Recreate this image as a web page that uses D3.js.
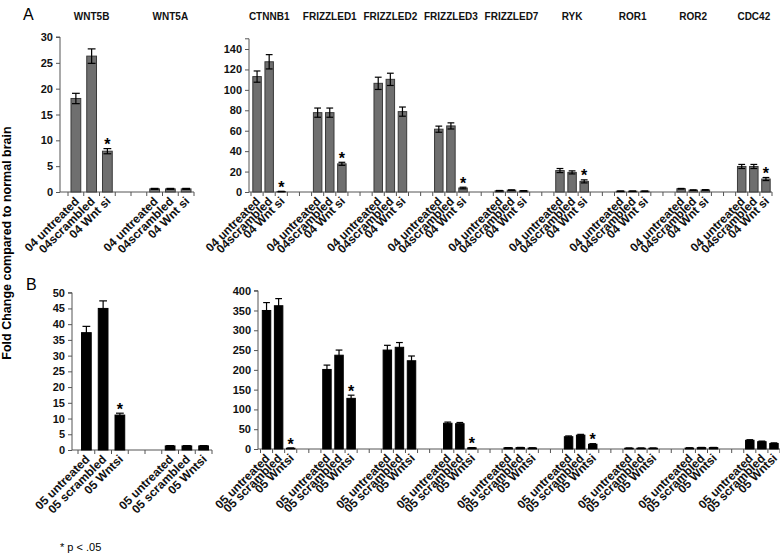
<!DOCTYPE html>
<html><head><meta charset="utf-8">
<script src="https://cdn.jsdelivr.net/npm/d3@7"></script>
<style>body{margin:0;background:#fff}svg{display:block;font-family:"Liberation Sans",Arial,sans-serif}</style>
</head><body>
<svg id="c" width="780" height="556"></svg>
<script>
// ---- data ----
const genesLeft = ["WNT5B", "WNT5A"];
const genesRight = ["CTNNB1", "FRIZZLED1", "FRIZZLED2", "FRIZZLED3", "FRIZZLED7", "RYK", "ROR1", "ROR2", "CDC42"];
const condA = ["04 untreated", "04scrambled", "04 Wnt si"];
const condB = ["05 untreated", "05 scrambled", "05 Wntsi"];

const aLeftValues = [[18.1, 26.3, 7.9], [0.6, 0.6, 0.6]];
const aLeftErrors = [[1.0, 1.4, 0.5], [0.1, 0.1, 0.1]];
const aLeftSig = [[0, 0, 1], [0, 0, 0]];

const aRightValues = [[113, 127.5, 0.5], [77.7, 77.7, 27.6], [106.4, 110.3, 78.7], [61.5, 64.7, 3.9], [1.2, 1.8, 1.1], [21, 19.2, 10.4], [0.8, 0.8, 0.8], [3.2, 1.8, 2.0], [25, 25, 12.7]];
const aRightErrors = [[5.5, 7, 0.2], [4.5, 4.5, 1.5], [6, 6, 4.5], [3, 3, 0.8], [0.3, 0.3, 0.2], [2, 1.5, 1.5], [0.2, 0.2, 0.2], [0.3, 0.3, 0.3], [2, 2, 1.5]];
const aRightSig = [[0, 0, 1], [0, 0, 1], [0, 0, 0], [0, 0, 1], [0, 0, 0], [0, 0, 1], [0, 0, 0], [0, 0, 0], [0, 0, 1]];

const bLeftValues = [[37.3, 45.0, 11.1], [1.3, 1.3, 1.3]];
const bLeftErrors = [[2.0, 2.4, 0.6], [0.1, 0.1, 0.1]];
const bLeftSig = [[0, 0, 1], [0, 0, 0]];

const bRightValues = [[350, 362, 2], [201, 237, 128], [250, 257, 223], [65, 64, 3], [3, 3.5, 2.5], [31, 35, 12], [2, 2, 2], [2.5, 3.5, 3.5], [22, 18.5, 14]];
const bRightErrors = [[20, 18, 0.5], [11, 13, 8], [12, 12, 12], [3, 3, 0.5], [0.5, 0.5, 0.5], [2, 2, 1.5], [0.5, 0.5, 0.5], [0.5, 0.5, 0.5], [1.5, 1.5, 1.5]];
const bRightSig = [[0, 0, 1], [0, 0, 1], [0, 0, 0], [0, 0, 1], [0, 0, 0], [0, 0, 1], [0, 0, 0], [0, 0, 0], [0, 0, 0]];

const ticksALeft = [0, 5, 10, 15, 20, 25, 30];
const ticksARight = [0, 20, 40, 60, 80, 100, 120, 140];
const ticksBLeft = [0, 5, 10, 15, 20, 25, 30, 35, 40, 45, 50];
const ticksBRight = [0, 50, 100, 150, 200, 250, 300, 350, 400];

// ---- drawing ----
const svg = d3.select("#c");
const FONT = '"Liberation Sans",Arial,sans-serif';

function panel(cfg) {
  const g = svg.append("g");
  // slots: 3 bars per gene, 2 blank slots between genes
  const slots = [];
  cfg.genes.forEach((gene, gi) => {
    cfg.conds.forEach((c, ci) => slots.push({key: gene + "|" + ci, gene, gi, ci, cond: c}));
    if (gi < cfg.genes.length - 1) { slots.push({key: gene + "|gap1", blank: true}); slots.push({key: gene + "|gap2", blank: true}); }
  });
  const x = d3.scaleBand().domain(slots.map(s => s.key)).range(cfg.xRange).paddingInner(cfg.pad).paddingOuter(cfg.pad / 2);
  const y = d3.scaleLinear().domain(cfg.yDomain).range(cfg.yRange);
  const y0 = y(0);

  // y axis
  const yAxis = d3.axisLeft(y).tickValues(cfg.ticks).tickSize(4).tickPadding(3);
  const ya = g.append("g").attr("transform", `translate(${cfg.axisX},0)`).call(yAxis);
  ya.select(".domain").attr("stroke", "#555").attr("d", `M-4,${y(cfg.yDomain[1])}H0V${y0}`);
  ya.selectAll(".tick line").attr("stroke", "#555");
  ya.selectAll(".tick text").attr("font-family", FONT).attr("font-weight", "bold").attr("font-size", "11px").attr("fill", "#111");

  // x axis line + ticks at slot boundaries
  const step = x.step();
  const start = x(slots[0].key) - x.paddingOuter() * step;
  const xEnd = cfg.xRange[1];
  g.append("line").attr("x1", cfg.axisX).attr("x2", xEnd).attr("y1", y0).attr("y2", y0).attr("stroke", "#555");
  const bounds = d3.range(slots.length + 1).map(i => start + i * step);
  g.selectAll("line.xt").data(bounds).join("line").attr("class", "xt")
    .attr("x1", d => d).attr("x2", d => d).attr("y1", y0).attr("y2", y0 + 4).attr("stroke", "#555");

  const bars = slots.filter(s => !s.blank).map(s => ({
    ...s,
    v: cfg.values[s.gi][s.ci],
    e: cfg.errors[s.gi][s.ci],
    sig: cfg.sig[s.gi][s.ci]
  }));

  g.selectAll("rect.bar").data(bars).join("rect").attr("class", "bar")
    .attr("x", d => x(d.key)).attr("width", x.bandwidth())
    .attr("y", d => y(d.v)).attr("height", d => y0 - y(d.v))
    .attr("fill", cfg.fill).attr("stroke", cfg.stroke).attr("stroke-width", 1);

  // error bars
  const cap = x.bandwidth() * 0.4;
  const cx = d => x(d.key) + x.bandwidth() / 2;
  const eb = g.selectAll("g.eb").data(bars).join("g").attr("class", "eb");
  eb.append("line").attr("x1", cx).attr("x2", cx)
    .attr("y1", d => y(d.v + d.e)).attr("y2", d => y(Math.max(0, d.v - d.e))).attr("stroke", "#000").attr("stroke-width", 1.2);
  eb.append("line").attr("x1", d => cx(d) - cap).attr("x2", d => cx(d) + cap)
    .attr("y1", d => y(d.v + d.e)).attr("y2", d => y(d.v + d.e)).attr("stroke", "#000").attr("stroke-width", 1.2);
  eb.append("line").attr("x1", d => cx(d) - cap).attr("x2", d => cx(d) + cap)
    .attr("y1", d => y(Math.max(0, d.v - d.e))).attr("y2", d => y(Math.max(0, d.v - d.e))).attr("stroke", "#000").attr("stroke-width", 1.2);

  // significance stars
  g.selectAll("text.star").data(bars.filter(d => d.sig)).join("text").attr("class", "star")
    .attr("x", cx).attr("y", d => y(d.v + d.e) + 1.5)
    .attr("text-anchor", "middle").attr("font-family", FONT).attr("font-weight", "bold").attr("font-size", "16px").text("*");

  // category labels
  g.selectAll("text.xl").data(bars).join("text").attr("class", "xl")
    .attr("transform", d => `translate(${cx(d) + 4},${y0 + 10}) rotate(-45)`)
    .attr("text-anchor", "end").attr("font-family", FONT).attr("font-weight", "bold").attr("font-size", "12px").attr("fill", "#111")
    .text(d => d.cond);

  // gene titles
  if (cfg.titles) {
    g.selectAll("text.gt").data(cfg.genes).join("text").attr("class", "gt")
      .attr("x", (gene) => x(gene + "|1") + x.bandwidth() / 2).attr("y", 20)
      .attr("text-anchor", "middle").attr("font-family", FONT).attr("font-weight", "bold").attr("font-size", "10px").attr("fill", "#111")
      .text(d => d);
  }
}

panel({genes: genesLeft, conds: condA, values: aLeftValues, errors: aLeftErrors, sig: aLeftSig,
  axisX: 60, xRange: [68, 194], pad: 0.38, yDomain: [0, 30], yRange: [192, 37], ticks: ticksALeft,
  fill: "#6f6f6f", stroke: "#3a3a3a", titles: true});
panel({genes: genesRight, conds: condA, values: aRightValues, errors: aRightErrors, sig: aRightSig,
  axisX: 249, xRange: [251, 772], pad: 0.3, yDomain: [0, 150], yRange: [192, 38.8], ticks: ticksARight,
  fill: "#6f6f6f", stroke: "#3a3a3a", titles: true});
panel({genes: genesLeft, conds: condB, values: bLeftValues, errors: bLeftErrors, sig: bLeftSig,
  axisX: 72, xRange: [78, 212], pad: 0.42, yDomain: [0, 50], yRange: [450, 292.7], ticks: ticksBLeft,
  fill: "#000", stroke: "#000", titles: false});
panel({genes: genesRight, conds: condB, values: bRightValues, errors: bRightErrors, sig: bRightSig,
  axisX: 258, xRange: [260.5, 780], pad: 0.3, yDomain: [0, 400], yRange: [449, 290.7], ticks: ticksBRight,
  fill: "#000", stroke: "#000", titles: false});

// panel letters, axis title, footnote
svg.append("text").attr("x", 23).attr("y", 20).attr("font-family", FONT).attr("font-size", "16px").text("A");
svg.append("text").attr("x", 26).attr("y", 290).attr("font-family", FONT).attr("font-size", "16px").text("B");
svg.append("text").attr("transform", "translate(11,243) rotate(-90)").attr("text-anchor", "middle")
  .attr("font-family", FONT).attr("font-weight", "bold").attr("font-size", "12.5px").text("Fold Change compared to normal brain");
svg.append("text").attr("x", 60).attr("y", 551).attr("font-family", FONT).attr("font-size", "11px").text("* p < .05");
</script>
</body></html>
